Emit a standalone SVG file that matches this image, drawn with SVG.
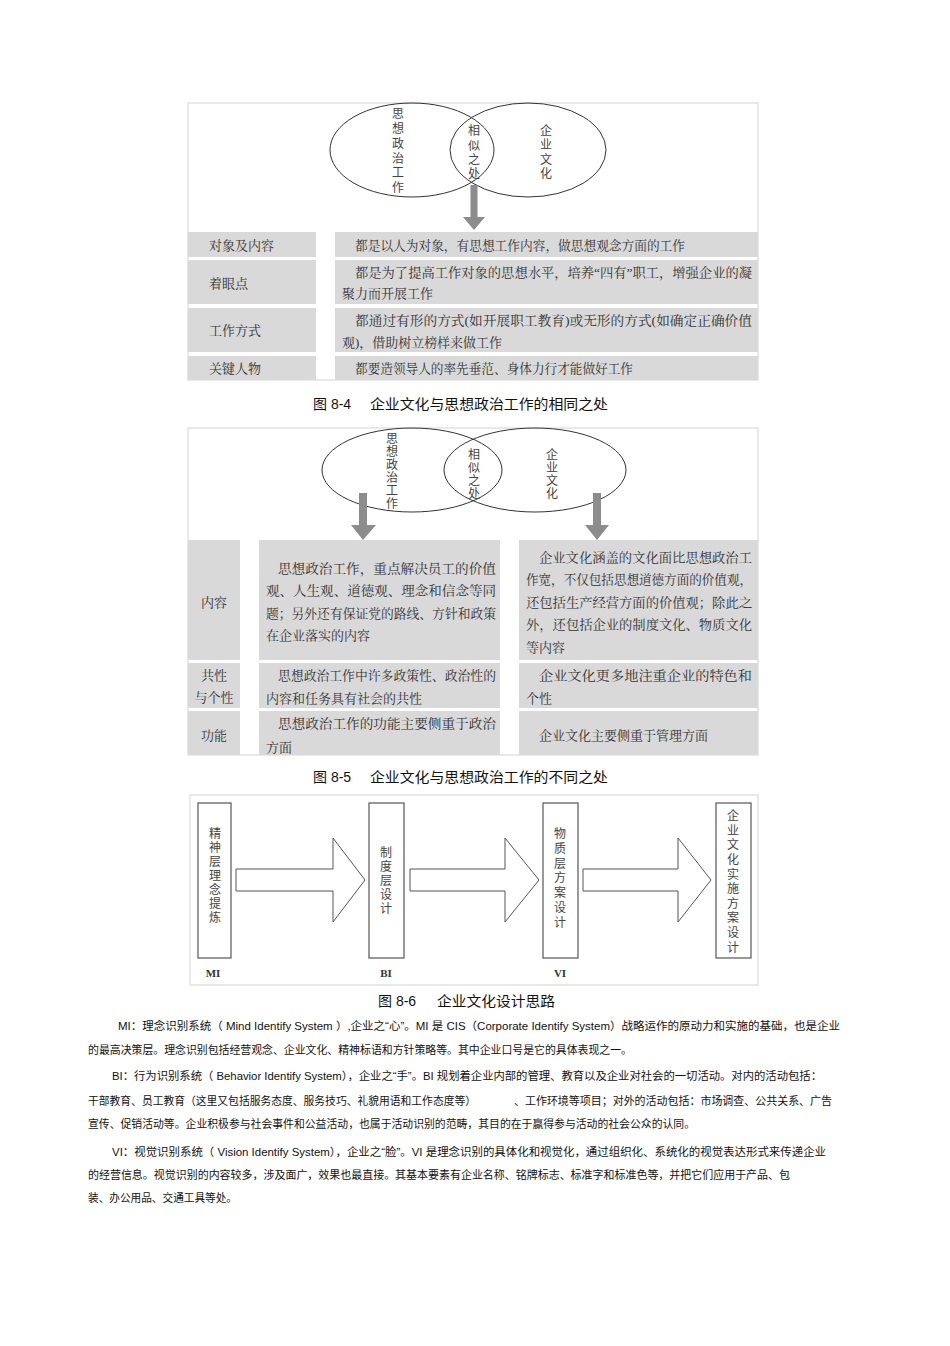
<svg xmlns="http://www.w3.org/2000/svg" width="950" height="1346" viewBox="0 0 950 1346">
<style>
.fig{font-family:"Liberation Serif","Noto Serif CJK SC","Noto Sans CJK SC",serif;font-size:13px;fill:#333}
.v{font-family:"Liberation Serif","Noto Sans CJK SC",serif;font-size:12px;fill:#444;text-anchor:middle}
.cell{fill:#d9d9d9}
.frame{fill:none;stroke:#e2e2e2;stroke-width:1.5}
.ell{fill:none;stroke:#333;stroke-width:1}
.gray{fill:#8c8c8c}
.cap{font-family:"Liberation Sans","Noto Sans CJK SC",sans-serif;font-size:14px;fill:#111}
.box{fill:#fff;stroke:#555;stroke-width:1.2}
.arr{fill:#fff;stroke:#555;stroke-width:1}
.lab{font-family:"Liberation Serif",serif;font-size:11px;font-weight:bold;fill:#333;text-anchor:middle}
.p{font-family:"Liberation Sans","Noto Sans CJK SC",sans-serif;font-size:11px;fill:#111}
.lc{text-anchor:middle}
</style>
<rect width="950" height="1346" fill="#fff"/>

<g id="fig84">
<rect class="frame" x="188" y="103" width="570" height="277"/>
<ellipse class="ell" cx="412" cy="150" rx="82" ry="47"/>
<ellipse class="ell" cx="528" cy="150" rx="78" ry="47"/>
<g class="v">
<text x="398" y="118">思</text><text x="398" y="133">想</text><text x="398" y="148">政</text><text x="398" y="163">治</text><text x="398" y="177">工</text><text x="398" y="192">作</text>
<text x="474" y="135">相</text><text x="474" y="150">似</text><text x="474" y="164">之</text><text x="474" y="178">处</text>
<text x="546" y="135">企</text><text x="546" y="149">业</text><text x="546" y="164">文</text><text x="546" y="178">化</text>
</g>
<polygon class="gray" points="470.5,185 477.5,185 477.5,217 485,217 474,230 463,217 470.5,217"/>
<rect class="cell" x="188" y="232" width="128" height="25"/><rect class="cell" x="335" y="232" width="423" height="25"/>
<rect class="cell" x="188" y="260" width="128" height="44"/><rect class="cell" x="335" y="260" width="423" height="44"/>
<rect class="cell" x="188" y="308" width="128" height="44"/><rect class="cell" x="335" y="308" width="423" height="44"/>
<rect class="cell" x="188" y="356" width="128" height="24"/><rect class="cell" x="335" y="356" width="423" height="24"/>
<g class="fig">
<text x="209" y="250">对象及内容</text>
<text x="209" y="288">着眼点</text>
<text x="209" y="335">工作方式</text>
<text x="209" y="373">关键人物</text>
<text x="355" y="250" textLength="330" lengthAdjust="spacingAndGlyphs">都是以人为对象，有思想工作内容，做思想观念方面的工作</text>
<text x="355" y="277" textLength="397" lengthAdjust="spacingAndGlyphs">都是为了提高工作对象的思想水平，培养“四有”职工，增强企业的凝</text>
<text x="342" y="298">聚力而开展工作</text>
<text x="355" y="325" textLength="397" lengthAdjust="spacingAndGlyphs">都通过有形的方式(如开展职工教育)或无形的方式(如确定正确价值</text>
<text x="342" y="347" textLength="160" lengthAdjust="spacingAndGlyphs">观)，借助树立榜样来做工作</text>
<text x="355" y="373" textLength="278" lengthAdjust="spacingAndGlyphs">都要造领导人的率先垂范、身体力行才能做好工作</text>
</g>
<text class="cap" y="409"><tspan x="313">图 8-4</tspan><tspan x="370" textLength="238" lengthAdjust="spacingAndGlyphs">企业文化与思想政治工作的相同之处</tspan></text>
</g>

<g id="fig85">
<rect class="frame" x="188" y="428" width="570" height="327"/>
<ellipse class="ell" cx="412" cy="470" rx="90" ry="42"/>
<ellipse class="ell" cx="535" cy="470" rx="91" ry="42"/>
<g class="v">
<text x="392" y="443">思</text><text x="392" y="456">想</text><text x="392" y="469">政</text><text x="392" y="482">治</text><text x="392" y="495">工</text><text x="392" y="508">作</text>
<text x="474" y="459">相</text><text x="474" y="472">似</text><text x="474" y="485">之</text><text x="474" y="498">处</text>
<text x="552" y="459">企</text><text x="552" y="472">业</text><text x="552" y="485">文</text><text x="552" y="498">化</text>
</g>
<polygon class="gray" points="359,493 367,493 367,525 376,525 363,540 351,525 359,525"/>
<polygon class="gray" points="593,493 601,493 601,525 609,525 597,540 585,525 593,525"/>
<rect class="cell" x="188" y="540" width="52" height="120"/><rect class="cell" x="259" y="540" width="241" height="120"/><rect class="cell" x="519" y="540" width="239" height="120"/>
<rect class="cell" x="188" y="663" width="52" height="45"/><rect class="cell" x="259" y="663" width="241" height="45"/><rect class="cell" x="519" y="663" width="239" height="45"/>
<rect class="cell" x="188" y="711" width="52" height="44"/><rect class="cell" x="259" y="711" width="241" height="44"/><rect class="cell" x="519" y="711" width="239" height="44"/>
<g class="fig">
<text class="lc" x="214" y="607">内容</text>
<text class="lc" x="214" y="680">共性</text>
<text class="lc" x="214" y="702">与个性</text>
<text class="lc" x="214" y="740">功能</text>
<text x="278" y="573" textLength="218" lengthAdjust="spacingAndGlyphs">思想政治工作，重点解决员工的价值</text>
<text x="266" y="595" textLength="230" lengthAdjust="spacingAndGlyphs">观、人生观、道德观、理念和信念等同</text>
<text x="266" y="618" textLength="230" lengthAdjust="spacingAndGlyphs">题；另外还有保证党的路线、方针和政策</text>
<text x="266" y="640">在企业落实的内容</text>
<text x="278" y="680" textLength="218" lengthAdjust="spacingAndGlyphs">思想政治工作中许多政策性、政治性的</text>
<text x="266" y="703">内容和任务具有社会的共性</text>
<text x="278" y="728" textLength="218" lengthAdjust="spacingAndGlyphs">思想政治工作的功能主要侧重于政治</text>
<text x="266" y="752">方面</text>
<text x="539" y="562" textLength="213" lengthAdjust="spacingAndGlyphs">企业文化涵盖的文化面比思想政治工</text>
<text x="526" y="584" textLength="226" lengthAdjust="spacingAndGlyphs">作宽，不仅包括思想道德方面的价值观，</text>
<text x="526" y="607" textLength="226" lengthAdjust="spacingAndGlyphs">还包括生产经营方面的价值观；除此之</text>
<text x="526" y="629" textLength="226" lengthAdjust="spacingAndGlyphs">外，还包括企业的制度文化、物质文化</text>
<text x="526" y="652">等内容</text>
<text x="539" y="680" textLength="213" lengthAdjust="spacingAndGlyphs">企业文化更多地注重企业的特色和</text>
<text x="526" y="703">个性</text>
<text x="539" y="740">企业文化主要侧重于管理方面</text>
</g>
<text class="cap" y="782"><tspan x="313">图 8-5</tspan><tspan x="370" textLength="238" lengthAdjust="spacingAndGlyphs">企业文化与思想政治工作的不同之处</tspan></text>
</g>

<g id="fig86">
<rect class="frame" x="190" y="795" width="568" height="190"/>
<g id="box-mi"><rect class="box" x="198" y="803" width="33" height="155"/>
<g class="v"><text x="215" y="838">精</text><text x="215" y="852">神</text><text x="215" y="866">层</text><text x="215" y="880">理</text><text x="215" y="894">念</text><text x="215" y="908">提</text><text x="215" y="922">炼</text></g></g>
<g id="box-bi"><rect class="box" x="369" y="803" width="35" height="155"/>
<g class="v"><text x="386" y="857">制</text><text x="386" y="871">度</text><text x="386" y="885">层</text><text x="386" y="899">设</text><text x="386" y="913">计</text></g></g>
<g id="box-vi"><rect class="box" x="543" y="803" width="35" height="155"/>
<g class="v"><text x="560" y="838">物</text><text x="560" y="853">质</text><text x="560" y="868">层</text><text x="560" y="882">方</text><text x="560" y="897">案</text><text x="560" y="912">设</text><text x="560" y="927">计</text></g></g>
<g id="box-final"><rect class="box" x="716" y="803" width="35" height="155"/>
<g class="v"><text x="733" y="820">企</text><text x="733" y="835">业</text><text x="733" y="849">文</text><text x="733" y="864">化</text><text x="733" y="879">实</text><text x="733" y="893">施</text><text x="733" y="908">方</text><text x="733" y="922">案</text><text x="733" y="937">设</text><text x="733" y="952">计</text></g></g>
<g id="connectors">
<polygon class="arr" points="236,869 333,869 333,838 365,880 333,922 333,891 236,891"/>
<polygon class="arr" points="410,869 505,869 505,838 539,880 505,922 505,891 410,891"/>
<polygon class="arr" points="583,869 678,869 678,838 711,880 678,922 678,891 583,891"/>
</g>
<text class="lab" x="213" y="977">MI</text>
<text class="lab" x="386" y="977">BI</text>
<text class="lab" x="560" y="977">VI</text>
<text class="cap" y="1006"><tspan x="378">图 8-6</tspan><tspan x="437" textLength="118" lengthAdjust="spacingAndGlyphs">企业文化设计思路</tspan></text>
</g>

<g id="text">
<text class="p" x="118" y="1030" textLength="722" lengthAdjust="spacingAndGlyphs">MI：理念识别系统（  Mind Identify System  ）,企业之“心”。MI 是 CIS（Corporate Identify System）战略运作的原动力和实施的基础，也是企业</text>
<text class="p" x="88" y="1054" textLength="544" lengthAdjust="spacingAndGlyphs">的最高决策层。理念识别包括经营观念、企业文化、精神标语和方针策略等。其中企业口号是它的具体表现之一。</text>
<text class="p" x="112" y="1080" textLength="710" lengthAdjust="spacingAndGlyphs">BI：行为识别系统（  Behavior Identify System），企业之“手”。BI 规划着企业内部的管理、教育以及企业对社会的一切活动。对内的活动包括：</text>
<text class="p" x="88" y="1105" textLength="388" lengthAdjust="spacingAndGlyphs">干部教育、员工教育（这里又包括服务态度、服务技巧、礼貌用语和工作态度等）</text>
<text class="p" x="514" y="1105" textLength="318" lengthAdjust="spacingAndGlyphs">、工作环境等项目；对外的活动包括：市场调查、公共关系、广告</text>
<text class="p" x="88" y="1128" textLength="607" lengthAdjust="spacingAndGlyphs">宣传、促销活动等。企业积极参与社会事件和公益活动，也属于活动识别的范畴，其目的在于赢得参与活动的社会公众的认同。</text>
<text class="p" x="112" y="1156" textLength="714" lengthAdjust="spacingAndGlyphs">VI：视觉识别系统（  Vision Identify System），企业之“脸”。VI 是理念识别的具体化和视觉化，通过组织化、系统化的视觉表达形式来传递企业</text>
<text class="p" x="88" y="1179" textLength="702" lengthAdjust="spacingAndGlyphs">的经营信息。视觉识别的内容较多，涉及面广，效果也最直接。其基本要素有企业名称、铭牌标志、标准字和标准色等，并把它们应用于产品、包</text>
<text class="p" x="88" y="1202" textLength="149" lengthAdjust="spacingAndGlyphs">装、办公用品、交通工具等处。</text>
</g>
</svg>
